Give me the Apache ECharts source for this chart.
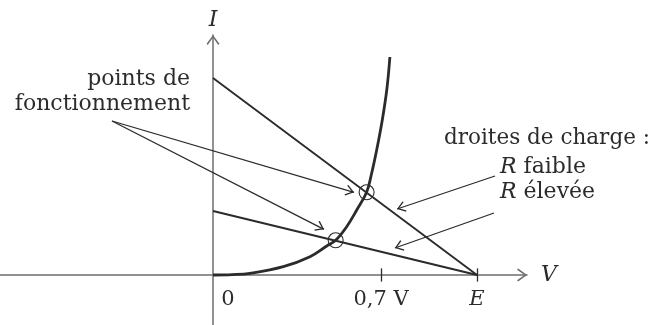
<!DOCTYPE html>
<html>
<head>
<meta charset="utf-8">
<script src="https://cdn.jsdelivr.net/npm/echarts@6/dist/echarts.min.js"></script>
<style>
  html, body { margin: 0; padding: 0; background: #fff; }
  #chart { width: 654px; height: 325px; }
</style>
</head>
<body>
<div id="chart"></div>
<script>
// source voltage E and characteristic (V, arbitrary I units)
const E = 1.1;
const diodeV = [0, 0.08, 0.154, 0.293, 0.404, 0.474, 0.511, 0.557, 0.599, 0.640, 0.661, 0.682, 0.703, 0.724, 0.737];
const diodeI = [0, 0.02, 0.085, 0.415, 0.915, 1.45, 1.735, 2.415, 3.25, 4.135, 5.085, 6.25, 7.585, 9.25, 10.9];
const loadLowR = [[0, 9.85], [E, 0]];
const loadHighR = [[0, 3.2], [E, 0]];
const operatingPoints = [[0.640, 4.135], [0.511, 1.735]];
const tickValues = [0, 0.7, E];
const tickLabels = ['0', '0,7 V', 'E'];
// annotation arrows, [from, to]
const pointArrows = [
  [[-0.421, 7.7], [0.5875, 4.135]],
  [[-0.421, 7.7], [0.4625, 2.285]]
];
const chargeArrows = [
  [[1.175, 4.95], [0.767, 3.3]],
  [[1.171, 3.1], [0.758, 1.35]]
];

const chart = echarts.init(document.getElementById('chart'));
const font = 'DejaVu Serif';
const ink = '#2b2b2b';
// open arrow head, tip sits on the symbol centre
const chevron = 'path://M6.5,0L13,9L11.8,10.2L6.5,2.6L1.2,10.2L0,9ZM6.5,-10';

function arrowLines(list) {
  return list.map(a => [
    { coord: a[0], symbol: 'none' },
    { coord: a[1], symbol: chevron }
  ]);
}

const option = {
  animation: false,
  grid: { left: 0, right: 127, top: 35, bottom: 0, containLabel: false, outerBoundsMode: 'none' },
  xAxis: {
    type: 'value',
    min: -0.8875,
    max: 1.30833,
    splitLine: { show: false },
    axisTick: { show: false },
    axisLabel: { show: false },
    axisLine: {
      onZero: true,
      lineStyle: { color: '#6e6e6e', width: 1.5 },
      symbol: ['none', chevron],
      symbolSize: [13, 20]
    },
    name: 'V',
    nameLocation: 'end',
    nameGap: 14,
    nameTextStyle: { fontFamily: font, fontStyle: 'italic', fontSize: 22, color: ink }
  },
  yAxis: {
    type: 'value',
    min: -2.5,
    max: 12,
    splitLine: { show: false },
    axisTick: { show: false },
    axisLabel: { show: false },
    axisLine: {
      onZero: true,
      lineStyle: { color: '#6e6e6e', width: 1.5 },
      symbol: ['none', chevron],
      symbolSize: [13, 20]
    },
    name: 'I',
    nameLocation: 'end',
    nameGap: 4,
    nameTextStyle: { fontFamily: font, fontStyle: 'italic', fontSize: 22, color: ink }
  },
  graphic: [
    {
      type: 'text', x: 190, y: 67,
      style: {
        text: 'points de\nfonctionnement', align: 'right', verticalAlign: 'top',
        fontFamily: font, fontSize: 22, lineHeight: 25, fill: ink
      }
    },
    {
      type: 'text', x: 444, y: 126,
      style: {
        text: 'droites de charge :', align: 'left', verticalAlign: 'top',
        fontFamily: font, fontSize: 21.5, lineHeight: 25, fill: ink
      }
    },
    {
      type: 'text', x: 500, y: 155,
      style: {
        text: '{i|R} faible\n{i|R} élevée', align: 'left', verticalAlign: 'top',
        fontFamily: font, fontSize: 22, lineHeight: 25, fill: ink,
        rich: {
          i: { fontFamily: font, fontStyle: 'italic', fontSize: 22, lineHeight: 25, fill: ink }
        }
      }
    }
  ],
  series: [
    {
      name: 'diode',
      type: 'line',
      smooth: 0.4,
      symbol: 'none',
      lineStyle: { color: ink, width: 2.8 },
      data: diodeV.map((v, i) => [v, diodeI[i]])
    },
    {
      name: 'R faible',
      type: 'line',
      symbol: 'none',
      lineStyle: { color: ink, width: 1.9 },
      data: loadLowR,
      markLine: {
        silent: true,
        symbolSize: [11, 17],
        label: { show: false },
        lineStyle: { color: ink, width: 1.3, type: 'solid' },
        data: arrowLines(pointArrows.concat(chargeArrows))
      }
    },
    {
      name: 'R élevée',
      type: 'line',
      symbol: 'none',
      lineStyle: { color: ink, width: 1.9 },
      data: loadHighR,
      markLine: {
        silent: true,
        symbol: 'none',
        label: { show: false },
        lineStyle: { color: ink, width: 1.3, type: 'solid' },
        data: tickValues.slice(1).map(v => [{ coord: [v, -0.33] }, { coord: [v, 0.33] }])
      }
    },
    {
      name: 'points',
      type: 'scatter',
      symbol: 'circle',
      symbolSize: 15,
      itemStyle: { color: 'rgba(0,0,0,0)', borderColor: ink, borderWidth: 1.1, opacity: 1 },
      data: operatingPoints
    },
    {
      // tick labels under the V axis
      name: 'ticks',
      type: 'scatter',
      symbolSize: 0,
      silent: true,
      itemStyle: { opacity: 1 },
      data: tickValues.map((v, i) => ({
        value: [v, 0],
        label: {
          show: true,
          position: 'bottom',
          distance: 14,
          offset: i === 0 ? [15, 0] : [0, 0],
          formatter: i === 2 ? '{e|' + tickLabels[i] + '}' : tickLabels[i],
          fontFamily: font,
          fontSize: 21,
          color: ink,
          opacity: 1,
          rich: { e: { fontFamily: font, fontStyle: 'italic', fontSize: 21, color: ink } }
        }
      }))
    }
  ]
};

chart.setOption(option);
</script>
</body>
</html>
